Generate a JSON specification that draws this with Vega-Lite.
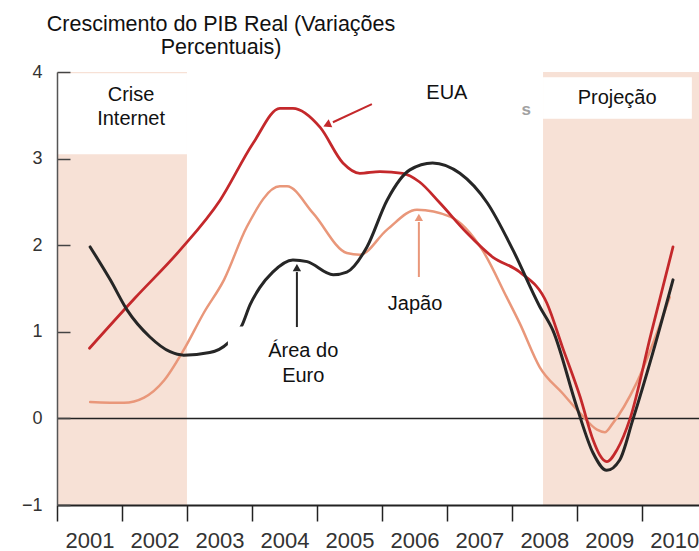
{
  "$schema": "https://vega.github.io/schema/vega-lite/v6.json",
  "width": 642,
  "height": 433,
  "autosize": {"type": "none"},
  "padding": {"left": 57, "top": 72, "right": 0, "bottom": 46},
  "background": "white",
  "title": {
    "text": ["Crescimento do PIB Real (Variações", "Percentuais)"],
    "anchor": "middle",
    "frame": "group",
    "dx": -157,
    "offset": 5,
    "fontSize": 21.5,
    "fontWeight": "normal",
    "font": "Liberation Sans",
    "color": "#111",
    "lineHeight": 23
  },
  "config": {"view": {"stroke": null}, "axis": {"grid": false}},
  "datasets": {
    "regions": [
      {"region": "Crise Internet", "start": 2000.5, "end": 2002.5, "low": -1, "high": 4},
      {"region": "Projeção", "start": 2007.98, "end": 2010.5, "low": -1, "high": 4}
    ],
    "boxes": [
      {"box": "Crise Internet", "start": 2000.5, "end": 2002.5, "low": 3.05, "high": 3.985},
      {"box": "Projeção", "start": 2007.98, "end": 2010.27, "low": 3.46, "high": 3.94},
      {"box": "Área do Euro", "start": 2003.13, "end": 2004.95, "low": 0.27, "high": 1.06}
    ],
    "series": [
      {"country": "Japão", "year": 2001.01, "value": 0.19},
      {"country": "Japão", "year": 2001.53, "value": 0.18},
      {"country": "Japão", "year": 2001.84, "value": 0.24},
      {"country": "Japão", "year": 2002.15, "value": 0.44},
      {"country": "Japão", "year": 2002.45, "value": 0.79},
      {"country": "Japão", "year": 2002.76, "value": 1.22},
      {"country": "Japão", "year": 2003.07, "value": 1.6},
      {"country": "Japão", "year": 2003.42, "value": 2.21},
      {"country": "Japão", "year": 2003.93, "value": 2.68},
      {"country": "Japão", "year": 2004.04, "value": 2.68},
      {"country": "Japão", "year": 2004.44, "value": 2.37},
      {"country": "Japão", "year": 2004.96, "value": 1.91},
      {"country": "Japão", "year": 2005.16, "value": 1.89},
      {"country": "Japão", "year": 2005.58, "value": 2.18},
      {"country": "Japão", "year": 2006.04, "value": 2.41},
      {"country": "Japão", "year": 2006.55, "value": 2.33},
      {"country": "Japão", "year": 2007.05, "value": 1.94},
      {"country": "Japão", "year": 2007.42, "value": 1.4},
      {"country": "Japão", "year": 2007.62, "value": 1.1},
      {"country": "Japão", "year": 2007.93, "value": 0.59},
      {"country": "Japão", "year": 2008.28, "value": 0.29},
      {"country": "Japão", "year": 2008.55, "value": 0.06},
      {"country": "Japão", "year": 2008.81, "value": -0.13},
      {"country": "Japão", "year": 2008.93, "value": -0.16},
      {"country": "Japão", "year": 2009.05, "value": -0.06},
      {"country": "Japão", "year": 2009.42, "value": 0.41},
      {"country": "Japão", "year": 2009.93, "value": 1.4},
      {"country": "EUA", "year": 2001.0, "value": 0.81},
      {"country": "EUA", "year": 2001.7, "value": 1.39},
      {"country": "EUA", "year": 2002.39, "value": 1.94},
      {"country": "EUA", "year": 2003.01, "value": 2.52},
      {"country": "EUA", "year": 2003.52, "value": 3.18},
      {"country": "EUA", "year": 2003.93, "value": 3.58},
      {"country": "EUA", "year": 2004.13, "value": 3.58},
      {"country": "EUA", "year": 2004.55, "value": 3.36},
      {"country": "EUA", "year": 2004.9, "value": 2.95},
      {"country": "EUA", "year": 2005.16, "value": 2.83},
      {"country": "EUA", "year": 2005.47, "value": 2.85},
      {"country": "EUA", "year": 2005.82, "value": 2.83},
      {"country": "EUA", "year": 2006.08, "value": 2.73},
      {"country": "EUA", "year": 2006.39, "value": 2.49},
      {"country": "EUA", "year": 2006.81, "value": 2.14},
      {"country": "EUA", "year": 2007.21, "value": 1.86},
      {"country": "EUA", "year": 2007.62, "value": 1.69},
      {"country": "EUA", "year": 2008.04, "value": 1.33},
      {"country": "EUA", "year": 2008.28, "value": 0.82},
      {"country": "EUA", "year": 2008.55, "value": 0.25},
      {"country": "EUA", "year": 2008.75, "value": -0.25},
      {"country": "EUA", "year": 2008.85, "value": -0.42},
      {"country": "EUA", "year": 2008.96, "value": -0.5},
      {"country": "EUA", "year": 2009.12, "value": -0.36},
      {"country": "EUA", "year": 2009.32, "value": 0.0},
      {"country": "EUA", "year": 2009.64, "value": 0.97},
      {"country": "EUA", "year": 2009.98, "value": 1.98},
      {"country": "Área do Euro", "year": 2001.01, "value": 1.98},
      {"country": "Área do Euro", "year": 2001.32, "value": 1.6},
      {"country": "Área do Euro", "year": 2001.58, "value": 1.25},
      {"country": "Área do Euro", "year": 2001.93, "value": 0.94},
      {"country": "Área do Euro", "year": 2002.24, "value": 0.77},
      {"country": "Área do Euro", "year": 2002.45, "value": 0.73},
      {"country": "Área do Euro", "year": 2002.85, "value": 0.76},
      {"country": "Área do Euro", "year": 2003.13, "value": 0.87},
      {"country": "Área do Euro", "year": 2003.35, "value": 1.08},
      {"country": "Área do Euro", "year": 2003.47, "value": 1.31},
      {"country": "Área do Euro", "year": 2003.62, "value": 1.51},
      {"country": "Área do Euro", "year": 2003.82, "value": 1.69},
      {"country": "Área do Euro", "year": 2004.13, "value": 1.83},
      {"country": "Área do Euro", "year": 2004.35, "value": 1.81},
      {"country": "Área do Euro", "year": 2004.75, "value": 1.66},
      {"country": "Área do Euro", "year": 2004.96, "value": 1.69},
      {"country": "Área do Euro", "year": 2005.27, "value": 1.98},
      {"country": "Área do Euro", "year": 2005.58, "value": 2.52},
      {"country": "Área do Euro", "year": 2005.93, "value": 2.87},
      {"country": "Área do Euro", "year": 2006.28, "value": 2.95},
      {"country": "Área do Euro", "year": 2006.7, "value": 2.83},
      {"country": "Área do Euro", "year": 2007.12, "value": 2.49},
      {"country": "Área do Euro", "year": 2007.52, "value": 1.94},
      {"country": "Área do Euro", "year": 2007.93, "value": 1.29},
      {"country": "Área do Euro", "year": 2008.13, "value": 1.02},
      {"country": "Área do Euro", "year": 2008.5, "value": 0.13},
      {"country": "Área do Euro", "year": 2008.75, "value": -0.4},
      {"country": "Área do Euro", "year": 2008.96, "value": -0.6},
      {"country": "Área do Euro", "year": 2009.16, "value": -0.48},
      {"country": "Área do Euro", "year": 2009.36, "value": -0.02},
      {"country": "Área do Euro", "year": 2009.67, "value": 0.76},
      {"country": "Área do Euro", "year": 2009.98, "value": 1.6}
    ],
    "arrows": [
      {"country": "EUA", "x": 2005.346, "y": 3.63, "x2": 2004.746, "y2": 3.42},
      {"country": "Área do Euro", "x": 2004.192, "y": 1.055, "x2": 2004.192, "y2": 1.69},
      {"country": "Japão", "x": 2006.069, "y": 1.633, "x2": 2006.069, "y2": 2.268}
    ],
    "heads": [
      {"country": "Área do Euro", "x": 2004.192, "y": 1.74},
      {"country": "Japão", "x": 2006.069, "y": 2.32}
    ],
    "headEUA": [
      {"country": "EUA", "x": 2004.654, "y": 3.39}
    ],
    "labels": [
      {"text": "Crise", "x": 2001.64, "y": 3.665},
      {"text": "Internet", "x": 2001.64, "y": 3.388},
      {"text": "EUA", "x": 2006.5, "y": 3.69},
      {"text": "Projeção", "x": 2009.12, "y": 3.63},
      {"text": "Área do", "x": 2004.29, "y": 0.709},
      {"text": "Euro", "x": 2004.29, "y": 0.42},
      {"text": "Japão", "x": 2006.01, "y": 1.252}
    ],
    "stray": [
      {"text": "s", "x": 2007.72, "y": 3.5}
    ]
  },
  "layer": [
    {
      "data": {"name": "regions"},
      "mark": {"type": "rect", "color": "#F7E1D6", "clip": true},
      "encoding": {
        "x": {
          "field": "start", "type": "quantitative", "title": null,
          "scale": {"domain": [2000.5, 2010.38], "nice": false, "zero": false},
          "axis": {
            "values": [2000.5, 2001.5, 2002.5, 2003.5, 2004.5, 2005.5, 2006.5, 2007.5, 2008.5, 2009.5],
            "labelExpr": "format(datum.value + 0.5, 'd')",
            "labelOffset": 32.5,
            "labelFontSize": 22,
            "labelFont": "Liberation Sans",
            "labelColor": "#333",
            "labelPadding": 9,
            "tickSize": 16,
            "tickColor": "#222",
            "tickWidth": 1.5,
            "domainColor": "#222",
            "domainWidth": 2,
            "labelOverlap": false,
            "labelFlush": false,
            "labelBound": false,
            "grid": false,
            "zindex": 1
          }
        },
        "x2": {"field": "end"},
        "y": {
          "field": "low", "type": "quantitative", "title": null,
          "scale": {"domain": [-1, 4], "nice": false, "zero": false},
          "axis": {
            "values": [-1, 0, 1, 2, 3, 4],
            "format": "d",
            "tickSize": -13,
            "tickColor": "#444",
            "tickWidth": 1.5,
            "domainColor": "#555",
            "domainWidth": 1.5,
            "labelFontSize": 18,
            "labelFont": "Liberation Sans",
            "labelColor": "#333",
            "labelPadding": 28,
            "labelFlush": false,
            "grid": false,
            "zindex": 1
          }
        },
        "y2": {"field": "high"}
      }
    },
    {
      "data": {"values": [{"level": 0}]},
      "mark": {"type": "rule", "color": "#222", "strokeWidth": 1.5},
      "encoding": {"y": {"field": "level", "type": "quantitative", "title": null}}
    },
    {
      "data": {"name": "series"},
      "mark": {"type": "line", "interpolate": "monotone", "strokeCap": "round"},
      "encoding": {
        "x": {"field": "year", "type": "quantitative", "title": null},
        "y": {"field": "value", "type": "quantitative", "title": null},
        "color": {
          "field": "country", "type": "nominal",
          "scale": {"domain": ["Japão", "EUA", "Área do Euro"], "range": ["#E9977A", "#C4282B", "#262626"]},
          "legend": null
        },
        "strokeWidth": {
          "field": "country", "type": "nominal",
          "scale": {"domain": ["Japão", "EUA", "Área do Euro"], "range": [2.5, 3, 3]},
          "legend": null
        }
      }
    },
    {
      "data": {"name": "boxes"},
      "mark": {"type": "rect", "color": "white"},
      "encoding": {
        "x": {"field": "start", "type": "quantitative", "title": null},
        "x2": {"field": "end"},
        "y": {"field": "low", "type": "quantitative", "title": null},
        "y2": {"field": "high"}
      }
    },
    {
      "data": {"name": "arrows"},
      "mark": {"type": "rule", "strokeWidth": 2},
      "encoding": {
        "x": {"field": "x", "type": "quantitative", "title": null},
        "x2": {"field": "x2"},
        "y": {"field": "y", "type": "quantitative", "title": null},
        "y2": {"field": "y2"},
        "color": {"field": "country", "type": "nominal", "legend": null}
      }
    },
    {
      "data": {"name": "heads"},
      "mark": {"type": "point", "shape": "triangle-up", "filled": true, "opacity": 1, "size": 70},
      "encoding": {
        "x": {"field": "x", "type": "quantitative", "title": null},
        "y": {"field": "y", "type": "quantitative", "title": null},
        "color": {"field": "country", "type": "nominal", "legend": null}
      }
    },
    {
      "data": {"name": "headEUA"},
      "mark": {"type": "point", "shape": "triangle-up", "filled": true, "opacity": 1, "size": 80, "angle": 246},
      "encoding": {
        "x": {"field": "x", "type": "quantitative", "title": null},
        "y": {"field": "y", "type": "quantitative", "title": null},
        "color": {"field": "country", "type": "nominal", "legend": null}
      }
    },
    {
      "data": {"name": "labels"},
      "mark": {"type": "text", "align": "center", "baseline": "alphabetic", "fontSize": 20, "font": "Liberation Sans", "color": "#111"},
      "encoding": {
        "x": {"field": "x", "type": "quantitative", "title": null},
        "y": {"field": "y", "type": "quantitative", "title": null},
        "text": {"field": "text", "type": "nominal"}
      }
    },
    {
      "data": {"name": "stray"},
      "mark": {"type": "text", "align": "center", "baseline": "alphabetic", "fontSize": 17, "fontWeight": "bold", "font": "Liberation Sans", "color": "#8a8a8a", "opacity": 0.8},
      "encoding": {
        "x": {"field": "x", "type": "quantitative", "title": null},
        "y": {"field": "y", "type": "quantitative", "title": null},
        "text": {"field": "text", "type": "nominal"}
      }
    }
  ]
}
